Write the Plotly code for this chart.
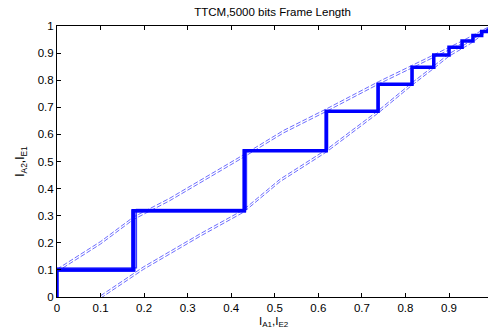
import plotly.graph_objects as go

# EXIT curve of decoder 1 (I_A1 -> I_E1)
upper_x = [0.0, 0.1, 0.175, 0.259, 0.428, 0.52, 0.619, 0.738, 0.815, 0.865, 0.93, 1.0]
upper_y = [0.098, 0.2, 0.29, 0.36, 0.52, 0.61, 0.69, 0.79, 0.85, 0.89, 0.94, 1.0]
# EXIT curve of decoder 2 (transposed: I_E2 on x, I_A2 on y)
lower_x = [0.1, 0.175, 0.198, 0.33, 0.428, 0.512, 0.619, 0.738, 0.815, 0.865, 0.9, 0.95, 1.0]
lower_y = [0.0, 0.08, 0.106, 0.23, 0.317, 0.43, 0.54, 0.684, 0.786, 0.848, 0.893, 0.94, 1.0]

# decoding trajectory step levels
step_x = [0.0, 0.175, 0.43, 0.618, 0.737, 0.815, 0.865, 0.90, 0.93, 0.955, 0.975, 0.99]
step_y = [0.1, 0.318, 0.54, 0.685, 0.785, 0.848, 0.893, 0.922, 0.945, 0.965, 0.98, 0.99]
# small per-trajectory variations (several simulated trajectories)
traj_dx = [0.0, 0.005, -0.004, 0.009]
traj_dy = [0.0, -0.005, 0.004, 0.008]

x_ticks = [0, 0.1, 0.2, 0.3, 0.4, 0.5, 0.6, 0.7, 0.8, 0.9, 1.0]
y_ticks = [0, 0.1, 0.2, 0.3, 0.4, 0.5, 0.6, 0.7, 0.8, 0.9, 1.0]
x_labels = ["0", "0.1", "0.2", "0.3", "0.4", "0.5", "0.6", "0.7", "0.8", "0.9", "1"]
y_labels = ["0", "0.1", "0.2", "0.3", "0.4", "0.5", "0.6", "0.7", "0.8", "0.9", "1"]

fig = go.Figure()

curve_color = "rgb(70,70,255)"
for cx, cy in [(upper_x, upper_y), (lower_x, lower_y)]:
    for off in (-0.0045, 0.0045):
        fig.add_trace(go.Scatter(
            x=cx, y=[v + off for v in cy], mode="lines",
            line=dict(color=curve_color, width=0.8, dash="5px,2px"),
            showlegend=False, hoverinfo="skip"))

for k, (ddx, ddy) in enumerate(zip(traj_dx, traj_dy)):
    tx = [0.0]
    ty = [0.0]
    for i in range(len(step_y)):
        xi = step_x[i] + (ddx * (1 - step_x[i]) if i > 0 else 0)
        yi = step_y[i] + ddy * (1 - step_y[i])
        tx += [xi, xi]
        ty += [ty[-1], yi]
        if i + 1 < len(step_x):
            xn = step_x[i + 1] + ddx * (1 - step_x[i + 1])
            tx.append(xn)
            ty.append(yi)
    fig.add_trace(go.Scatter(
        x=tx, y=ty, mode="lines",
        line=dict(color="rgb(0,0,255)", width=3.5 if k == 0 else 1.3),
        opacity=1 if k == 0 else 0.75,
        showlegend=False, hoverinfo="skip"))

fig.add_annotation(text="I<sub>A1</sub>,I<sub>E2</sub>", xref="paper", yref="paper",
                   x=0.503, y=-0.094, xanchor="center", yanchor="middle",
                   showarrow=False, font=dict(size=11.5))

fig.update_layout(
    width=488, height=328,
    margin=dict(l=57, r=0, t=26, b=31),
    paper_bgcolor="white", plot_bgcolor="white",
    font=dict(family="Liberation Sans, Arial, sans-serif", size=12, color="black"),
    title=dict(text="TTCM,5000 bits Frame Length", x=0.5, xref="paper",
               y=0.962, yref="container", xanchor="center", yanchor="middle",
               font=dict(size=11.5)),
    xaxis=dict(range=[0, 0.9895], tickvals=x_ticks, ticktext=x_labels,
               ticks="inside", ticklen=4, tickcolor="black",
               tickfont=dict(size=11.5),
               showline=True, linecolor="black", linewidth=1, mirror="ticks",
               showgrid=False, zeroline=False),
    yaxis=dict(range=[0, 1], tickvals=y_ticks, ticktext=y_labels,
               ticks="inside", ticklen=4, tickcolor="black",
               tickfont=dict(size=11.5),
               showline=True, linecolor="black", linewidth=1, mirror=False,
               showgrid=False, zeroline=False,
               title=dict(text="I<sub>A2</sub>,I<sub>E1</sub>", standoff=10,
                          font=dict(size=12))),
)

fig.write_html("out.html")
